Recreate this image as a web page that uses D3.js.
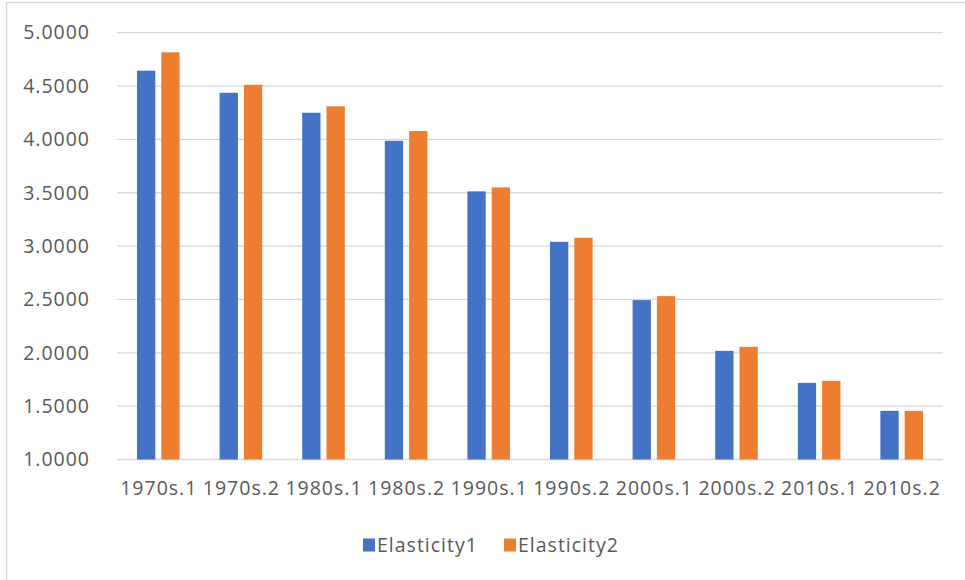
<!DOCTYPE html>
<html>
<head>
<meta charset="utf-8">
<script src="https://cdn.jsdelivr.net/npm/d3@7/dist/d3.min.js"></script>
<style>
  html, body { margin: 0; padding: 0; background: #fff; }
  svg { display: block; }
  text { font-family: "Open Sans", "Noto Sans", sans-serif; fill: #595959; }
</style>
</head>
<body>
<svg id="chart" width="965" height="580"></svg>
<script>
// Categories (half-decades) and the two elasticity series
const categories = ["1970s.1", "1970s.2", "1980s.1", "1980s.2", "1990s.1",
                    "1990s.2", "2000s.1", "2000s.2", "2010s.1", "2010s.2"];
const elasticity1 = [4.644, 4.437, 4.250, 3.987, 3.513, 3.040, 2.494, 2.018, 1.718, 1.456];
const elasticity2 = [4.816, 4.512, 4.310, 4.078, 3.550, 3.078, 2.531, 2.056, 1.737, 1.456];
const seriesNames = ["Elasticity1", "Elasticity2"];
const yTicks = [1.0, 1.5, 2.0, 2.5, 3.0, 3.5, 4.0, 4.5, 5.0];

const colors = ["#4472C4", "#ED7D31"];
const svg = d3.select("#chart");

// Chart frame (only its top and left edges fall inside the view)
svg.append("rect")
  .attr("x", 6.5).attr("y", 2.5)
  .attr("width", 1000).attr("height", 1000)
  .attr("fill", "none").attr("stroke", "#d9d9d9").attr("stroke-width", 1.5);

const plot = { left: 117, right: 943, top: 32.7, bottom: 459.5 };

const x = d3.scaleBand().domain(categories).range([plot.left, plot.right]).padding(0);
const y = d3.scaleLinear().domain([1, 5]).range([plot.bottom, plot.top]);

const labelStyle = sel => sel
  .style("font-size", "19.5px")
  .style("letter-spacing", "1px")
  .attr("fill", "#595959");

// Gridlines
svg.append("g").selectAll("line").data(yTicks).join("line")
  .attr("x1", plot.left).attr("x2", plot.right)
  .attr("y1", d => y(d)).attr("y2", d => y(d))
  .attr("stroke", "#d9d9d9").attr("stroke-width", 1.3);

// Y axis labels
const yAxis = d3.axisLeft(y).tickValues(yTicks).tickFormat(d3.format(".4f")).tickSize(0).tickPadding(27);
const yg = svg.append("g").attr("transform", `translate(${plot.left},0)`).call(yAxis);
yg.select(".domain").remove();
yg.selectAll("text").call(labelStyle);

// X axis labels
const xAxis = d3.axisBottom(x).tickSize(0).tickPadding(22);
const xg = svg.append("g").attr("transform", `translate(0,${plot.bottom})`).call(xAxis);
xg.select(".domain").remove();
xg.selectAll("text").call(labelStyle).attr("dx", "0.5px");

// Bars
const barW = 18.3, innerGap = 6;
const sub = d3.scaleOrdinal().domain(seriesNames)
  .range([-(barW + innerGap / 2), innerGap / 2]);
const rows = categories.map((c, i) => ({ c, v: [elasticity1[i], elasticity2[i]] }));
const groups = svg.append("g").selectAll("g").data(rows).join("g")
  .attr("transform", d => `translate(${x(d.c) + x.bandwidth() / 2},0)`);
groups.selectAll("rect").data(d => d.v.map((v, k) => ({ k, v }))).join("rect")
  .attr("x", d => sub(seriesNames[d.k]))
  .attr("width", barW)
  .attr("y", d => y(d.v))
  .attr("height", d => y(1) - y(d.v))
  .attr("fill", d => colors[d.k]);

// Legend
const legend = svg.append("g").attr("transform", "translate(363,545)");
const items = [{ name: seriesNames[0], x: 0 }, { name: seriesNames[1], x: 141 }];
items.forEach((it, k) => {
  const g = legend.append("g").attr("transform", `translate(${it.x},0)`);
  g.append("rect").attr("x", 0).attr("y", -6.5).attr("width", 12).attr("height", 13).attr("fill", colors[k]);
  g.append("text").attr("x", 14).attr("y", 0).attr("dy", "0.35em")
    .call(labelStyle).text(it.name);
});
</script>
</body>
</html>
